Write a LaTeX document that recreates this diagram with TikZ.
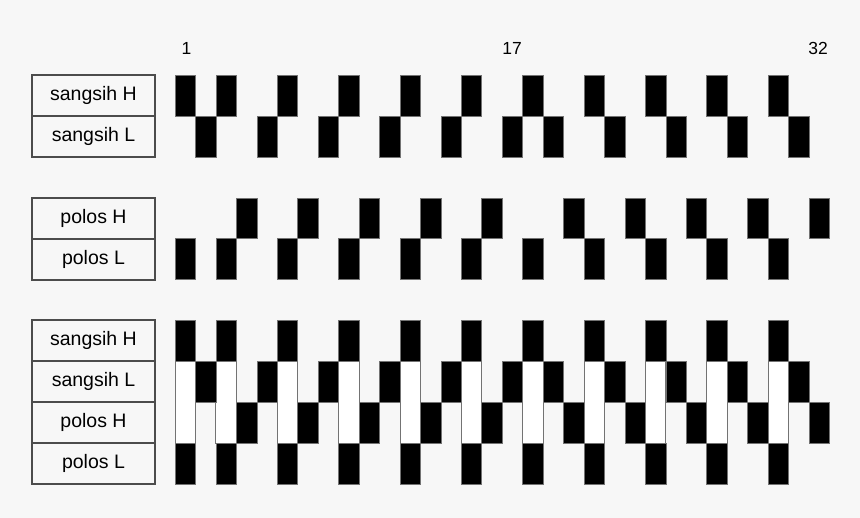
\documentclass[tikz,border=0pt]{standalone}
\usepackage{fontspec}
\setmainfont{Liberation Sans}
\usepackage{tikz}
\definecolor{bgcol}{RGB}{247,247,247}
\newcommand{\cellw}{20.45}
\tikzset{
    lbl/.style={draw=black!70, line width=1.2pt, minimum width=123pt, minimum height=41pt, inner sep=0pt, font=\fontsize{19.5}{22}\selectfont},
    num/.style={font=\fontsize{17.5}{20}\selectfont},
    blk/.style={fill=black, draw=black!55, line width=0.6pt},
    gap/.style={fill=white, draw=black!55, line width=0.9pt}
}

\begin{document}
\begin{tikzpicture}[x=1pt,y=-1pt]
    \fill[bgcol] (0,0) rectangle (860,518);

    \node[num] (N1) at (186.5,48) {1};
    \node[num] (N17) at (512,48) {17};
    \node[num] (N32) at (818,48) {32};

    \node[lbl] (SH1) at (93.5,95.5) {sangsih H};
    \node[lbl] (SL1) at (93.5,136.5) {sangsih L};
    \node[lbl] (PH2) at (93.5,218.5) {polos H};
    \node[lbl] (PL2) at (93.5,259.5) {polos L};
    \node[lbl] (SH3) at (93.5,340.5) {sangsih H};
    \node[lbl] (SL3) at (93.5,381.5) {sangsih L};
    \node[lbl] (PH3) at (93.5,422.5) {polos H};
    \node[lbl] (PL3) at (93.5,463.5) {polos L};

    % sangsih H and polos L share the same columns
    \foreach \c in {1,3,6,9,12,15,18,21,24,27,30} {
        \draw[blk] ({175+(\c-1)*\cellw},75) rectangle ++(\cellw,41);
        \draw[blk] ({175+(\c-1)*\cellw},238.5) rectangle ++(\cellw,41);
        \draw[gap] ({175+(\c-1)*\cellw},361) rectangle ++(\cellw,82);
        \draw[blk] ({175+(\c-1)*\cellw},320) rectangle ++(\cellw,41);
        \draw[blk] ({175+(\c-1)*\cellw},443) rectangle ++(\cellw,41);
    }
    % sangsih L
    \foreach \c in {2,5,8,11,14,17,19,22,25,28,31} {
        \draw[blk] ({175+(\c-1)*\cellw},116) rectangle ++(\cellw,41);
        \draw[blk] ({175+(\c-1)*\cellw},361) rectangle ++(\cellw,41);
    }
    % polos H
    \foreach \c in {4,7,10,13,16,20,23,26,29,32} {
        \draw[blk] ({175+(\c-1)*\cellw},198) rectangle ++(\cellw,40.5);
        \draw[blk] ({175+(\c-1)*\cellw},402) rectangle ++(\cellw,41);
    }
\end{tikzpicture}
\end{document}
